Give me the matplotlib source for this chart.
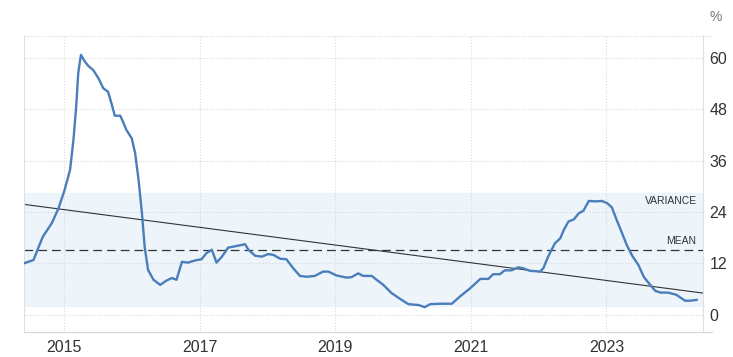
import matplotlib
matplotlib.use("Agg")
import matplotlib.pyplot as plt

plt.rcParams["font.family"] = ["Liberation Sans", "DejaVu Sans"]

# decimal years and values
years = [2014.42, 2014.55, 2014.62, 2014.69, 2014.82, 2014.92, 2015.01, 2015.09, 2015.14, 2015.18,
         2015.21, 2015.25, 2015.31, 2015.36, 2015.43, 2015.51, 2015.58, 2015.65, 2015.70, 2015.75,
         2015.83, 2015.87, 2015.92, 2016.00, 2016.05, 2016.10, 2016.15, 2016.19, 2016.24, 2016.32,
         2016.42, 2016.51, 2016.59, 2016.66, 2016.74, 2016.83, 2016.93, 2017.03, 2017.10, 2017.18,
         2017.25, 2017.33, 2017.42, 2017.55, 2017.67, 2017.72, 2017.82, 2017.92, 2018.01, 2018.09,
         2018.19, 2018.28, 2018.38, 2018.48, 2018.58, 2018.70, 2018.82, 2018.90, 2019.02, 2019.17,
         2019.24, 2019.34, 2019.41, 2019.54, 2019.61, 2019.71, 2019.83, 2019.96, 2020.08, 2020.23,
         2020.32, 2020.40, 2020.55, 2020.72, 2020.84, 2020.99, 2021.14, 2021.26, 2021.33, 2021.43,
         2021.50, 2021.60, 2021.70, 2021.77, 2021.87, 2022.02, 2022.07, 2022.14, 2022.24, 2022.32,
         2022.37, 2022.44, 2022.52, 2022.59, 2022.66, 2022.74, 2022.84, 2022.93, 2023.01, 2023.08,
         2023.15, 2023.23, 2023.30, 2023.38, 2023.47, 2023.55, 2023.62, 2023.72, 2023.80, 2023.91,
         2024.03, 2024.16, 2024.23, 2024.33]
values = [12.1, 12.8, 15.6, 18.3, 21.4, 24.9, 29.2, 33.9, 40.9, 48.6,
          56.4, 60.7, 59.1, 58.1, 57.2, 55.2, 52.9, 52.1, 49.4, 46.5,
          46.5, 45.1, 43.2, 41.2, 37.7, 31.5, 23.7, 15.9, 10.5, 8.2,
          7.0, 8.0, 8.6, 8.2, 12.4, 12.2, 12.7, 13.0, 14.4, 15.2,
          12.2, 13.6, 15.7, 16.1, 16.5, 15.2, 13.8, 13.6, 14.2, 14.0,
          13.1, 13.0, 10.9, 9.1, 8.9, 9.1, 10.1, 10.1, 9.2, 8.7,
          8.8, 9.7, 9.1, 9.1, 8.2, 7.0, 5.1, 3.7, 2.5, 2.3,
          1.8, 2.5, 2.6, 2.6, 4.3, 6.2, 8.4, 8.4, 9.5, 9.5,
          10.4, 10.4, 11.1, 10.9, 10.3, 10.1, 10.9, 13.6, 16.7, 17.9,
          19.8, 21.8, 22.3, 23.7, 24.3, 26.6, 26.5, 26.6, 26.1, 25.1,
          22.2, 19.1, 16.3, 13.8, 11.7, 8.9, 7.5, 5.6, 5.2, 5.2,
          4.7, 3.3, 3.3, 3.5]

mean_val = 15.25
band_low, band_high = 2.0, 28.5
trend_x = [2014.41, 2024.42]
trend_y = [25.8, 5.1]
year_ticks = [2015, 2017, 2019, 2021, 2023]
value_ticks = [0, 12, 24, 36, 48, 60]

fig = plt.figure(figsize=(7.33, 3.57), dpi=100)
ax = fig.add_axes([0.0327, 0.070, 0.926, 0.829])

ax.axhspan(band_low, band_high, color="#edf5fb", zorder=0)
ax.axhline(mean_val, color="#333333", lw=0.9, ls=(0, (7, 4)), zorder=2)
ax.plot(trend_x, trend_y, color="#333333", lw=0.8, zorder=2)
ax.plot(years, values, color="#4a7ebb", lw=1.7, zorder=3, solid_joinstyle="round")

ax.set_xlim(2014.41, 2024.42)
ax.set_ylim(-4, 65.1)
ax.set_xticks(year_ticks)
ax.set_xticklabels([str(y) for y in year_ticks])
ax.set_yticks(value_ticks)
ax.yaxis.tick_right()
ax.tick_params(axis="both", length=0, labelsize=11.5, colors="#333333")
ax.tick_params(axis="y", pad=5)
ax.tick_params(axis="x", pad=6)
ax.grid(True, color="#d8d8d8", ls=":", lw=0.8, zorder=1)

ax.spines["left"].set_color("#e0e0e0")
ax.spines["right"].set_color("#e0e0e0")
ax.spines["top"].set_visible(False)
ax.spines["bottom"].set_visible(False)
# top dotted and bottom solid frame lines run a little past the right edge
ax.plot([0, 1.013], [1, 1], transform=ax.transAxes, color="#d8d8d8", ls=":", lw=0.8, clip_on=False)
ax.plot([0, 1.013], [0, 0], transform=ax.transAxes, color="#d8d8d8", lw=0.9, clip_on=False)

ax.text(2024.33, 26.6, "VARIANCE", ha="right", va="center", fontsize=7.5, color="#333333")
ax.text(2024.33, 17.3, "MEAN", ha="right", va="center", fontsize=7.5, color="#333333")
fig.text(0.977, 0.952, "%", ha="center", va="center", fontsize=10, color="#777777")

fig.savefig("out.png", dpi=100)
